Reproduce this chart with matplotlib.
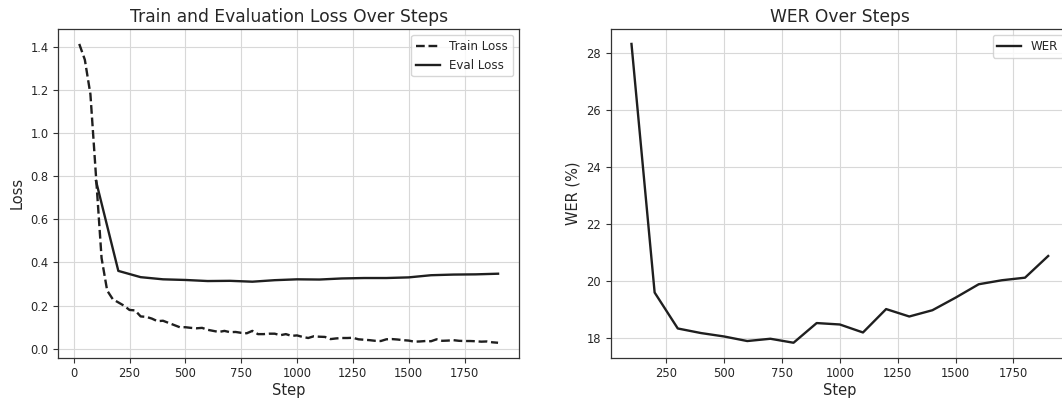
import numpy as np
import matplotlib.pyplot as plt

# training loss logged every 25 steps
train_steps = list(range(25, 1901, 25))
train_loss = [1.413, 1.34, 1.18, 0.80, 0.42, 0.27, 0.23, 0.215, 0.20, 0.18,
              0.178, 0.15, 0.148, 0.14, 0.128, 0.13, 0.12, 0.11, 0.10, 0.10,
              0.097, 0.095, 0.097, 0.088, 0.083, 0.078, 0.083, 0.077, 0.078, 0.074,
              0.072, 0.083, 0.068, 0.068, 0.07, 0.07, 0.063, 0.068, 0.06, 0.062,
              0.055, 0.050, 0.058, 0.056, 0.055, 0.045, 0.048, 0.050, 0.050, 0.051,
              0.044, 0.042, 0.040, 0.037, 0.036, 0.044, 0.045, 0.043, 0.040, 0.038,
              0.033, 0.034, 0.036, 0.035, 0.044, 0.037, 0.038, 0.040, 0.037, 0.036,
              0.036, 0.035, 0.033, 0.034, 0.030, 0.028]

# eval every 100 steps
eval_steps = list(range(100, 1901, 100))
eval_loss = [0.778, 0.361, 0.332, 0.322, 0.319, 0.314, 0.315, 0.311, 0.318, 0.322,
             0.321, 0.326, 0.328, 0.328, 0.331, 0.341, 0.344, 0.345, 0.348]
wer = [28.31, 19.6, 18.34, 18.18, 18.06, 17.9, 17.98, 17.84, 18.53, 18.48,
       18.2, 19.02, 18.76, 18.98, 19.42, 19.89, 20.03, 20.12, 20.88]

txt = '#262626'
plt.rcParams['text.color'] = txt
plt.rcParams['axes.labelcolor'] = txt
plt.rcParams['xtick.color'] = '#333333'
plt.rcParams['ytick.color'] = '#333333'
plt.rcParams['xtick.labelcolor'] = txt
plt.rcParams['ytick.labelcolor'] = txt

fig = plt.figure(figsize=(10.62, 4.01), dpi=100)
ax1 = fig.add_axes([0.0549, 0.108, 0.4338, 0.8197])
ax2 = fig.add_axes([0.575, 0.108, 0.4316, 0.8197])

line_col = '#1f1f1f'

ax1.plot(train_steps, train_loss, '--', color=line_col, lw=1.7, label='Train Loss')
ax1.plot(eval_steps, eval_loss, '-', color=line_col, lw=1.7, label='Eval Loss')
ax1.set_title('Train and Evaluation Loss Over Steps', fontsize=12.3, pad=5)
ax1.set_xlabel('Step', fontsize=10.5, labelpad=2)
ax1.set_ylabel('Loss', fontsize=10.5)
ax1.legend(loc='upper right', fontsize=8.6)

ax2.plot(eval_steps, wer, '-', color=line_col, lw=1.7, label='WER')
ax2.set_title('WER Over Steps', fontsize=12.3, pad=5)
ax2.set_xlabel('Step', fontsize=10.5, labelpad=2)
ax2.set_ylabel('WER (%)', fontsize=10.5)
ax2.legend(loc='upper right', fontsize=8.6)

for ax in (ax1, ax2):
    ax.grid(True, color='#d8d8d8', lw=0.8)
    ax.set_axisbelow(True)
    ax.tick_params(labelsize=8.3, length=3.5, width=0.8)
    for s in ax.spines.values():
        s.set_color('#333333')
        s.set_linewidth(0.9)

ax1.set_xticks([0, 250, 500, 750, 1000, 1250, 1500, 1750])
ax2.set_xticks([250, 500, 750, 1000, 1250, 1500, 1750])

fig.savefig('out.png', dpi=100)
